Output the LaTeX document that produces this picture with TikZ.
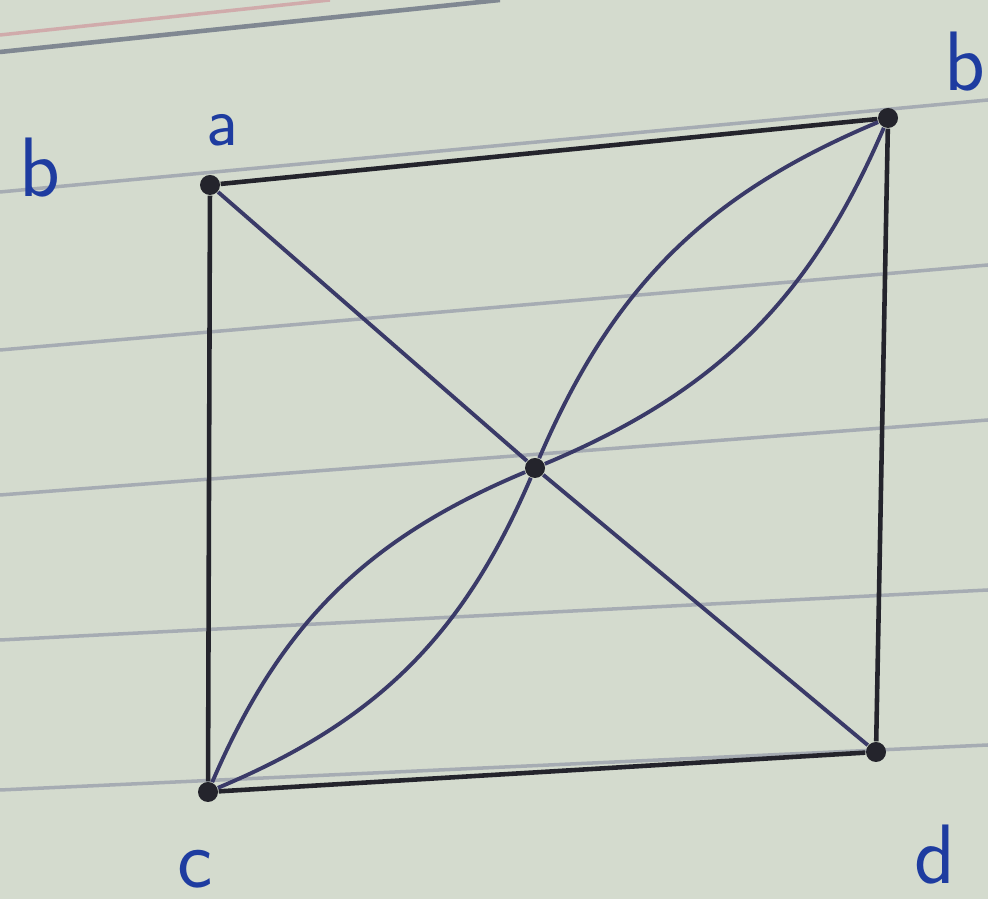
\documentclass[tikz,border=0pt]{standalone}
\usepackage{tikz}
\usetikzlibrary{positioning,arrows.meta,calc}
\definecolor{papercol}{RGB}{212,219,206}
\definecolor{rulecol}{RGB}{128,136,146}
\definecolor{marginred}{RGB}{196,150,150}
\definecolor{inkcol}{RGB}{36,36,44}
\definecolor{pencol}{RGB}{58,58,104}
\definecolor{labcol}{RGB}{30,60,160}

\begin{document}
\begin{tikzpicture}[
  vtx/.style={circle, fill=inkcol, inner sep=0pt, minimum size=0.2cm},
  side/.style={inkcol, line width=1.3pt},
  inner/.style={pencol, line width=1.1pt},
  lbl/.style={font=\fontsize{24}{24}\sffamily, text=labcol}
]

% paper
\fill[papercol] (0,0) rectangle (9.88,8.99);
\useasboundingbox (0,0) rectangle (9.88,8.99);
\foreach \y/\yy in {7.07/7.99, 5.49/6.34, 4.04/4.79, 2.59/3.09, 1.09/1.54}
  \draw[rulecol!70, line width=1pt] (0,\y) -- (9.88,\yy);
\draw[marginred!80, line width=1pt] (0,8.64) -- (3.3,8.99);
\draw[rulecol, line width=1.3pt] (0,8.47) -- (5.0,8.99);

% vertices
\node[vtx] (a) at (2.10, 7.14) {};
\node[vtx] (b) at (8.88, 7.81) {};
\node[vtx] (c) at (2.08, 1.07) {};
\node[vtx] (d) at (8.76, 1.47) {};
\node[vtx] (e) at (5.35, 4.31) {};

% outer square
\draw[side] (a) -- (b);
\draw[side] (a) -- (c);
\draw[side] (b) -- (d);
\draw[side] (c) -- (d);

% diagonal and petals
\draw[inner] (a) -- (e) -- (d);
\draw[inner] (e) to[bend left=22]  (b);
\draw[inner] (e) to[bend right=22] (b);
\draw[inner] (c) to[bend left=22]  (e);
\draw[inner] (c) to[bend right=22] (e);

% labels
\node[lbl] (lb1) at (0.40, 7.31) {b};
\node[lbl, font=\fontsize{20}{20}\sffamily] (la) at (2.22, 7.69) {a};
\node[lbl] (lb2) at (9.65, 8.37) {b};
\node[lbl] (lc) at (1.95, 0.30) {c};
\node[lbl] (ld) at (9.35, 0.44) {d};

\end{tikzpicture}
\end{document}
